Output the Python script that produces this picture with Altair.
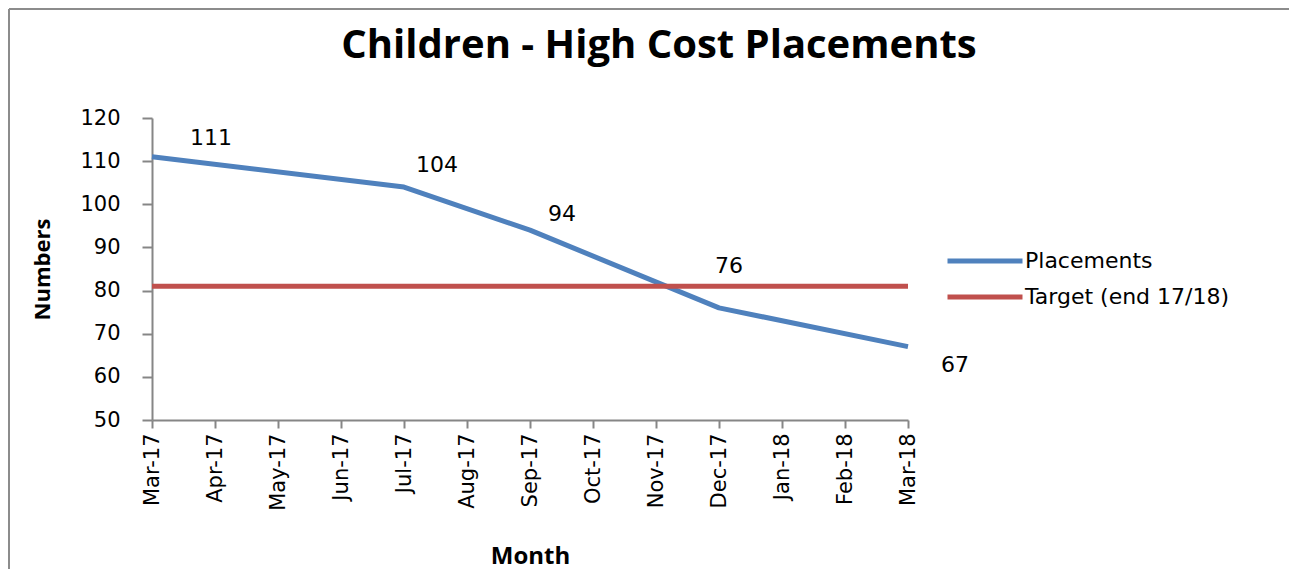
import altair as alt
import pandas as pd

months = ["Mar-17", "Apr-17", "May-17", "Jun-17", "Jul-17", "Aug-17", "Sep-17",
          "Oct-17", "Nov-17", "Dec-17", "Jan-18", "Feb-18", "Mar-18"]
placement_months = ["Mar-17", "Jul-17", "Sep-17", "Dec-17", "Mar-18"]
placement_values = [111, 104, 94, 76, 67]
target_months = ["Mar-17", "Mar-18"]
target_values = [81, 81]
series_names = ["Placements", "Target (end 17/18)"]
series_colors = ["#4F81BD", "#C0504D"]

rows = []
for m, v in zip(placement_months, placement_values):
    rows.append({"month": m, "value": v, "series": series_names[0], "idx": months.index(m)})
for m, v in zip(target_months, target_values):
    rows.append({"month": m, "value": v, "series": series_names[1], "idx": months.index(m)})
df = pd.DataFrame(rows)

x_enc = alt.X("month:O", sort=months,
              scale=alt.Scale(domain=months, type="point", padding=0),
              axis=alt.Axis(title="Month", labelAngle=270, labelPadding=5, tickSize=8,
                            titleY=136, titleBaseline="middle",
                            titleFont="Open Sans", titleFontSize=24, titleFontWeight="bold"))
y_enc = alt.Y("value:Q", scale=alt.Scale(domain=[50, 120], nice=False, zero=False),
              axis=alt.Axis(title="Numbers", values=list(range(50, 121, 10)),
                            tickSize=10, labelPadding=22,
                            titleAngle=270, titleX=-110, titleY=151,
                            titleAlign="center", titleBaseline="middle",
                            titleFont="Open Sans", titleFontSize=22, titleFontWeight="bold"))
color_enc = alt.Color("series:N",
                      scale=alt.Scale(domain=series_names, range=series_colors),
                      legend=alt.Legend(title=None, orient="none", legendX=821, legendY=131,
                                        symbolType="M-4,0H4", symbolSize=351.5,
                                        symbolStrokeWidth=5, labelFont="DejaVu Sans",
                                        labelFontSize=22, labelColor="#000000",
                                        labelOffset=28, rowPadding=13, padding=0,
                                        labelLimit=1000))

base = alt.Chart(df)

line_p = base.transform_filter(alt.datum.series == series_names[0]).mark_line(
    strokeWidth=5, strokeJoin="round").encode(x=x_enc, y=y_enc, color=color_enc, order="idx:Q")
line_t = base.transform_filter(alt.datum.series == series_names[1]).mark_line(
    strokeWidth=5).encode(x=x_enc, y=y_enc, color=color_enc, order="idx:Q")

label_offsets = {"Mar-17": (59, -19), "Jul-17": (33, -22), "Sep-17": (32, -16),
                 "Dec-17": (10, -42), "Mar-18": (47, 18)}
texts = []
for m in placement_months:
    dx, dy = label_offsets[m]
    texts.append(
        base.transform_filter((alt.datum.series == series_names[0]) & (alt.datum.month == m))
        .mark_text(font="DejaVu Sans", fontSize=22, color="#000000", dx=dx, dy=dy,
                   align="center", baseline="middle")
        .encode(x=x_enc, y=y_enc, text="value:Q")
    )

frame_data = alt.Data(values=[{"a": 1}])
border_top = alt.Chart(frame_data).mark_rule(stroke="#8c8c8c", strokeWidth=2).encode(
    x=alt.value(-143), x2=alt.value(1137), y=alt.value(-109))
border_left = alt.Chart(frame_data).mark_rule(stroke="#8c8c8c", strokeWidth=2).encode(
    x=alt.value(-143), y=alt.value(-109), y2=alt.value(451))

chart = alt.layer(border_top, border_left, line_p, line_t, *texts).properties(
    width=756, height=302,
    title=alt.TitleParams("Children -  High Cost Placements", font="Open Sans",
                          fontSize=40, fontWeight="bold", color="#000000",
                          anchor="middle", dx=129, dy=90, offset=0, baseline="alphabetic"),
    autosize=alt.AutoSizeParams(type="none"),
    padding={"left": 144, "top": 110, "right": 381, "bottom": 149},
).configure_view(stroke=None).configure_axis(
    grid=False, domainColor="#868686", domainWidth=2, tickColor="#868686", tickWidth=2,
    labelFont="DejaVu Sans", labelFontSize=21, labelColor="#000000", titleColor="#000000"
)

chart.save("out.html", embed_options={"renderer": "svg", "actions": False})
